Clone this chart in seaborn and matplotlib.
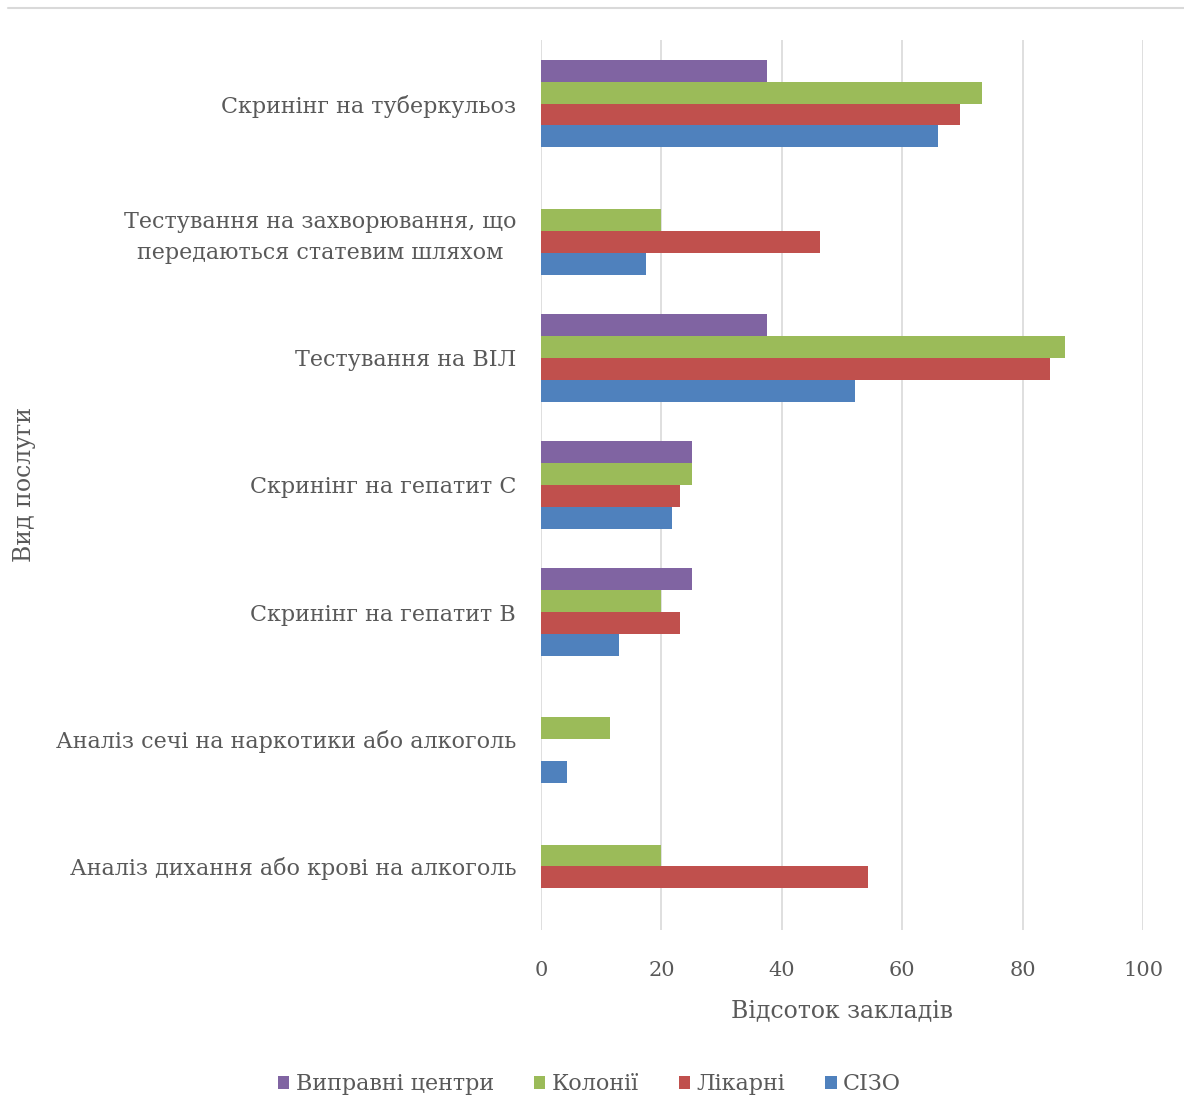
import matplotlib
matplotlib.use("Agg")
import matplotlib.pyplot as plt
import seaborn as sns
import pandas as pd
from matplotlib.lines import Line2D

categories = [
    "Скринінг на туберкульоз",
    "Тестування на захворювання, що\nпередаються статевим шляхом",
    "Тестування на ВІЛ",
    "Скринінг на гепатит С",
    "Скринінг на гепатит В",
    "Аналіз сечі на наркотики або алкоголь",
    "Аналіз дихання або крові на алкоголь",
]
series_names = ["Виправні центри", "Колонії", "Лікарні", "СІЗО"]
correctional = [37.5, 0, 37.5, 25, 25, 0, 0]
colonies = [73.3, 20, 87.0, 25, 20, 11.5, 20]
hospitals = [69.6, 46.4, 84.6, 23, 23, 0, 54.3]
pretrial = [65.9, 17.4, 52.2, 21.8, 12.9, 4.3, 0]
x_ticks = [0, 20, 40, 60, 80, 100]

colors = ["#8064A2", "#9BBB59", "#C0504D", "#4F81BD"]
text_color = "#595959"

rows = []
for name, vals in zip(series_names, [correctional, colonies, hospitals, pretrial]):
    for cat, v in zip(categories, vals):
        rows.append({"Вид послуги": cat, "Заклад": name, "Відсоток": v})
df = pd.DataFrame(rows)

sns.set_theme(style="white")
plt.rcParams["font.family"] = ["DejaVu Serif"]

fig = plt.figure(figsize=(11.84, 11.01), dpi=100)
ax = fig.add_axes([0.457, 0.1553, 0.5084, 0.8084])

sns.barplot(data=df, y="Вид послуги", x="Відсоток", hue="Заклад",
            order=categories, hue_order=series_names, palette=colors,
            orient="h", width=0.69, saturation=1, linewidth=0,
            ax=ax, legend=True)

ax.set_xlim(0, 100)
ax.set_xticks(x_ticks)
ax.set_xticklabels([str(t) for t in x_ticks])
ax.xaxis.grid(True, color="#D9D9D9", linewidth=1.2)
ax.set_axisbelow(True)
for s in ax.spines.values():
    s.set_visible(False)
ax.tick_params(axis="both", length=0, colors=text_color)
ax.tick_params(axis="x", pad=22, labelsize=15)
ax.tick_params(axis="y", pad=18, labelsize=16)
for lbl in ax.get_yticklabels():
    lbl.set_multialignment("center")
    lbl.set_linespacing(1.5)

ax.set_xlabel("Відсоток закладів", fontsize=17, color=text_color, labelpad=14)
ax.set_ylabel("")
fig.text(0.021, 0.56, "Вид послуги", rotation=90, ha="center", va="center",
         fontsize=17, color=text_color)

handles, labels = ax.get_legend_handles_labels()
ax.get_legend().remove()
fig.legend(handles, labels, loc="lower center", bbox_to_anchor=(0.498, -0.013),
           ncol=4, frameon=False, fontsize=16, handlelength=0.5,
           handleheight=0.5, handletextpad=0.3, columnspacing=1.8,
           labelcolor=text_color)

fig.add_artist(Line2D([0.007, 1.0], [0.993, 0.993], transform=fig.transFigure,
                      color="#D9D9D9", linewidth=1.5))

fig.savefig("out.png", dpi=100)
